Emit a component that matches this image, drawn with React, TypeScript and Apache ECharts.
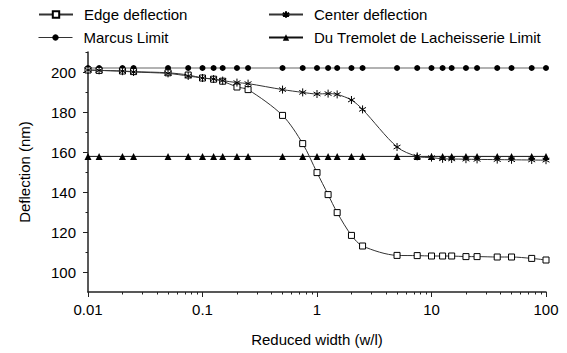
import React, { useEffect, useRef } from "react";
import * as echarts from "echarts";

const xVals = [0.01, 0.0125, 0.02, 0.025, 0.05, 0.075, 0.1, 0.125, 0.15, 0.2, 0.25, 0.5, 0.75, 1, 1.25, 1.5, 2, 2.5, 5, 7.5, 10, 12.5, 15, 20, 25, 37.5, 50, 75, 100];
const edge = [201, 200.8, 200.5, 200.2, 199.6, 198.5, 197.0, 196.4, 195.4, 192.5, 191.2, 178.3, 164.2, 149.7, 138.7, 129.7, 118.3, 113.0, 108.3, 108.2, 108.0, 108.0, 108.0, 107.7, 107.7, 107.5, 107.5, 106.8, 106.0];
const center = [201, 200.8, 200.4, 200.0, 199.3, 198.0, 197.0, 196.5, 195.7, 194.7, 194.2, 191.2, 189.8, 189.0, 189.2, 188.8, 186.0, 181.3, 162.5, 157.8, 157.2, 156.6, 156.5, 156.4, 156.3, 156.2, 156.1, 156.0, 155.9];
const marcus = [202, 202, 202, 202, 202, 202, 202, 202, 202, 202, 202, 202, 202, 202, 202, 202, 202, 202, 202, 202, 202, 202, 202, 202, 202, 202, 202, 202, 202];
const tremolet = [157.8, 157.8, 157.8, 157.8, 157.8, 157.8, 157.8, 157.8, 157.8, 157.8, 157.8, 157.8, 157.8, 157.8, 157.8, 157.8, 157.8, 157.8, 157.8, 157.8, 157.8, 157.8, 157.8, 157.8, 157.8, 157.8, 157.8, 157.8, 157.8];

const xMajor = [0.01, 0.1, 1, 10, 100];
const xMinor = [0.02, 0.03, 0.04, 0.05, 0.06, 0.07, 0.08, 0.09, 0.2, 0.3, 0.4, 0.5, 0.6, 0.7, 0.8, 0.9, 2, 3, 4, 5, 6, 7, 8, 9, 20, 30, 40, 50, 60, 70, 80, 90];
const yMajor = [100, 120, 140, 160, 180, 200];
const yMinor = [110, 130, 150, 170, 190, 210];

const names = ["Edge deflection", "Center deflection", "Marcus Limit", "Du Tremolet de Lacheisserie Limit"];

const FONT = "'Liberation Sans', Arial, sans-serif";
const STAR = "path://M5,0L5,10M0.67,2.5L9.33,7.5M0.67,7.5L9.33,2.5";

const pair = (ys: number[]) => xVals.map((x, i) => [x, ys[i]]);

export default function App() {
  const ref = useRef<HTMLDivElement>(null);
  useEffect(() => {
    if (!ref.current) return;
    const chart = echarts.init(ref.current, undefined, { renderer: "svg" });
    const axisLine = { show: true, lineStyle: { color: "#222", width: 1.5 } };
    const legendBase = {
      padding: 0,
      itemWidth: 34,
      itemHeight: 8,
      textStyle: { fontFamily: FONT, fontSize: 15, color: "#000", padding: [0, 0, 0, 6] },
    };
    chart.setOption({
      animation: false,
      backgroundColor: "#fff",
      grid: { left: 88, right: 21, top: 52, bottom: 61 },
      legend: [
        { ...legendBase, left: 38, top: 7, data: [names[0]] },
        { ...legendBase, left: 268, top: 7, data: [names[1]] },
        { ...legendBase, left: 38, top: 30, data: [names[2]], lineStyle: { color: "#333", width: 1 } },
        { ...legendBase, left: 268, top: 30, data: [names[3]] },
      ],
      xAxis: [
        {
          type: "log",
          logBase: 10,
          min: 0.01,
          max: 100,
          name: "Reduced width (w/l)",
          nameLocation: "middle",
          nameGap: 40,
          nameTextStyle: { fontFamily: FONT, fontSize: 15, color: "#000" },
          axisLine,
          axisTick: { show: true, length: 5, customValues: xMajor, lineStyle: { color: "#222" } },
          axisLabel: {
            customValues: xMajor,
            margin: 10,
            fontFamily: FONT,
            fontSize: 15,
            color: "#000",
            formatter: (v: number) => String(parseFloat(v.toPrecision(3))),
          },
          splitLine: { show: false },
        },
        {
          type: "log",
          logBase: 10,
          min: 0.01,
          max: 100,
          position: "bottom",
          axisLine: { show: false },
          axisTick: { show: true, length: 2.5, customValues: xMinor, lineStyle: { color: "#222" } },
          axisLabel: { show: false },
          splitLine: { show: false },
        },
      ],
      yAxis: [
        {
          type: "value",
          min: 90,
          max: 210,
          name: "Deflection (nm)",
          nameLocation: "middle",
          nameGap: 56,
          nameTextStyle: { fontFamily: FONT, fontSize: 15, color: "#000" },
          axisLine,
          axisTick: { show: true, length: 5, customValues: yMajor, lineStyle: { color: "#222" } },
          axisLabel: { customValues: yMajor, margin: 12, fontFamily: FONT, fontSize: 15, color: "#000" },
          splitLine: { show: false },
        },
        {
          type: "value",
          min: 90,
          max: 210,
          position: "left",
          axisLine: { show: false },
          axisTick: { show: true, length: 2.5, customValues: yMinor, lineStyle: { color: "#222" } },
          axisLabel: { show: false },
          splitLine: { show: false },
        },
      ],
      series: [
        {
          name: names[2],
          type: "line",
          data: pair(marcus),
          symbol: "circle",
          symbolSize: 6,
          itemStyle: { color: "#000" },
          lineStyle: { color: "#999", width: 1.5 },
          z: 2,
        },
        {
          name: names[3],
          type: "line",
          data: pair(tremolet),
          symbol: "triangle",
          symbolSize: 7,
          itemStyle: { color: "#000" },
          lineStyle: { color: "#111", width: 1 },
          z: 2,
        },
        {
          name: names[0],
          type: "line",
          data: pair(edge),
          smooth: 0.3,
          symbol: "rect",
          symbolSize: 6,
          itemStyle: { color: "#fff", borderColor: "#000", borderWidth: 1 },
          lineStyle: { color: "#333", width: 1 },
          z: 3,
        },
        {
          name: names[1],
          type: "line",
          data: pair(center),
          smooth: 0.3,
          symbol: STAR,
          symbolSize: 8,
          symbolKeepAspect: true,
          itemStyle: { color: "#000", borderColor: "#000", borderWidth: 1 },
          lineStyle: { color: "#333", width: 1 },
          z: 4,
        },
      ],
    });
    return () => chart.dispose();
  }, []);
  return <div ref={ref} style={{ position: "fixed", left: 0, top: 0, width: 567, height: 353 }} />;
}
